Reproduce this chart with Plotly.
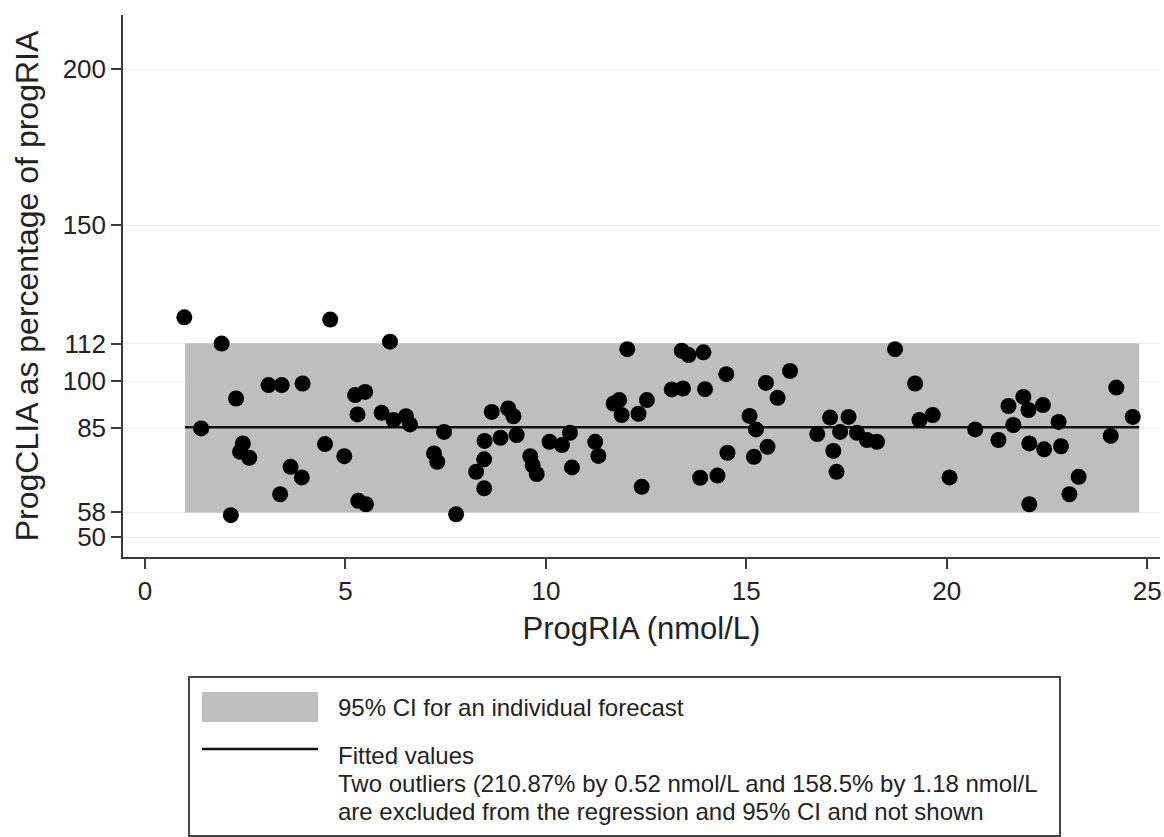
import plotly.graph_objects as go

# ---- data ----
prog_ria = [0.98, 4.62, 1.91, 6.11, 2.27, 3.08, 3.41, 3.93, 5.24, 5.49, 5.30, 5.90,
            1.40, 2.44, 2.37, 2.60, 4.49, 4.97, 3.63, 3.91, 3.37, 5.32, 5.51, 2.14,
            12.03, 6.20, 6.51, 6.61, 7.46, 7.21, 7.29, 7.76, 8.65, 9.06, 9.19, 8.47,
            8.87, 9.27, 8.46, 8.26, 8.46, 9.61, 9.67, 9.77, 10.09, 10.40, 10.60, 10.65,
            11.23, 11.31, 11.69, 11.83, 11.89, 12.31, 12.39, 12.52,
            13.39, 13.56, 13.93, 13.14, 13.42, 13.97, 14.50, 13.85, 14.28, 14.53,
            15.49, 16.09, 15.78, 15.08, 15.24, 15.19, 15.53, 16.77, 17.09, 17.55,
            17.34, 17.17, 17.25, 17.76, 18.01, 18.26,
            18.71, 19.21, 19.32, 19.65, 20.71, 20.07, 21.29, 21.54, 21.91, 22.04,
            22.40, 21.66, 22.79, 22.06, 22.43, 22.85, 23.29, 23.06, 22.06, 24.23,
            24.09, 24.64]
pct_clia = [120.5, 119.8, 112.1, 112.7, 94.5, 98.8, 98.8, 99.3, 95.6, 96.6, 89.4, 89.9,
            84.9, 80.1, 77.4, 75.5, 79.9, 76.0, 72.6, 69.2, 63.8, 61.7, 60.6, 57.1,
            110.3, 87.6, 88.8, 86.2, 83.8, 76.9, 74.2, 57.4, 90.2, 91.3, 88.8, 80.9,
            81.9, 82.8, 75.0, 71.0, 65.7, 76.0, 73.1, 70.3, 80.6, 79.6, 83.5, 72.4,
            80.6, 76.1, 92.9, 94.0, 89.2, 89.6, 66.2, 94.0,
            109.8, 108.4, 109.3, 97.4, 97.7, 97.5, 102.3, 69.1, 69.8, 77.1,
            99.5, 103.3, 94.7, 88.9, 84.6, 75.8, 79.0, 83.1, 88.4, 88.6,
            83.8, 77.7, 71.0, 83.5, 81.2, 80.6,
            110.3, 99.3, 87.6, 89.2, 84.6, 69.2, 81.2, 92.1, 95.0, 90.8,
            92.4, 86.0, 87.0, 80.1, 78.2, 79.2, 69.4, 63.8, 60.6, 98.0,
            82.5, 88.6]

ci_x = [1.0, 24.8]
ci_low = [58.0, 58.0]
ci_high = [112.2, 112.2]
fit_x = [1.0, 24.8]
fit_y = [85.3, 85.3]

x_ticks = [0, 5, 10, 15, 20, 25]
y_ticks = [50, 58, 85, 100, 112, 150, 200]

legend_labels = ["95% CI for an individual forecast", "Fitted values",
                 "Two outliers (210.87% by 0.52 nmol/L and 158.5% by 1.18 nmol/L",
                 "are excluded from the regression and 95% CI and not shown"]

# ---- layout geometry ----
W, H = 1164, 837
L, R, T, B = 123, 4, 15, 280
PW, PH = W - L - R, H - T - B
FONT = "Liberation Sans, Arial, Helvetica, sans-serif"
TXT = "#222222"
BAND = "#bebebe"


def px(xp):
    return (xp - L) / PW


def py(yp):
    return (H - B - yp) / PH


fig = go.Figure()
fig.add_trace(go.Scatter(x=ci_x, y=ci_low, mode="lines", line=dict(width=0),
                         hoverinfo="skip", showlegend=False))
fig.add_trace(go.Scatter(x=ci_x, y=ci_high, mode="lines", line=dict(width=0),
                         fill="tonexty", fillcolor=BAND, showlegend=False))
fig.add_trace(go.Scatter(x=fit_x, y=fit_y, mode="lines",
                         line=dict(color="#111111", width=2.5), showlegend=False))
fig.add_trace(go.Scatter(x=prog_ria, y=pct_clia, mode="markers",
                         marker=dict(color="#000000", size=16, line=dict(width=0)),
                         showlegend=False))

shapes = [
    dict(type="rect", xref="paper", yref="paper", x0=px(189), x1=px(1060),
         y0=py(836), y1=py(677), line=dict(color="#444444", width=2),
         fillcolor="white", layer="above"),
    dict(type="rect", xref="paper", yref="paper", x0=px(202), x1=px(318),
         y0=py(722), y1=py(692), line=dict(width=0), fillcolor=BAND, layer="above"),
    dict(type="line", xref="paper", yref="paper", x0=px(202), x1=px(318),
         y0=py(749), y1=py(749), line=dict(color="#111111", width=2.5), layer="above"),
]
ann_y = [707, 755, 783, 811]
annotations = [
    dict(text=t, xref="paper", yref="paper", x=px(336), y=py(yy), xanchor="left",
         yanchor="middle", showarrow=False, font=dict(family=FONT, size=24, color=TXT))
    for t, yy in zip(legend_labels, ann_y)
]

fig.update_layout(
    width=W, height=H, autosize=False,
    margin=dict(l=L, r=R, t=T, b=B),
    paper_bgcolor="white", plot_bgcolor="white",
    font=dict(family=FONT, color=TXT),
    shapes=shapes, annotations=annotations,
    xaxis=dict(range=[-0.55, 25.32], tickvals=x_ticks, showgrid=False, zeroline=False,
               showline=True, linecolor="#3a3a3a", linewidth=1.5,
               ticks="outside", ticklen=10, tickwidth=1.5, tickcolor="#3a3a3a",
               tickfont=dict(size=26, family=FONT, color=TXT),
               ticklabeloverflow="allow",
               title=dict(text="ProgRIA (nmol/L)", font=dict(size=31, family=FONT, color=TXT),
                          standoff=12),
               automargin=False),
    yaxis=dict(range=[43.7, 217.4], tickvals=y_ticks, showgrid=True,
               gridcolor="#ececec", gridwidth=1, zeroline=False,
               showline=True, linecolor="#3a3a3a", linewidth=1.5,
               ticks="outside", ticklen=10, tickwidth=1.5, tickcolor="#3a3a3a",
               tickfont=dict(size=26, family=FONT, color=TXT),
               title=dict(text="ProgCLIA as percentage of progRIA",
                          font=dict(size=32, family=FONT, color=TXT), standoff=14),
               automargin=False),
)

fig.write_html("out.html", config={"displayModeBar": False},
               post_script="document.body.style.margin='0';document.body.style.overflow='hidden';")
